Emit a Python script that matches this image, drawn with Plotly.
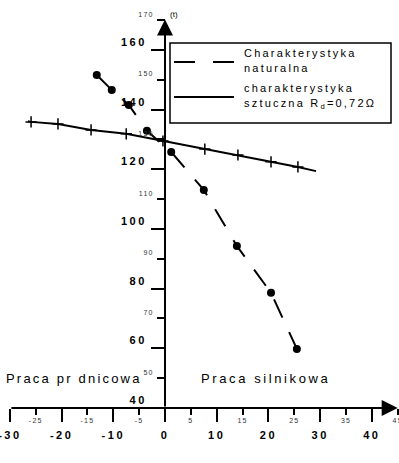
import plotly.graph_objects as go

# ---------------- data ----------------
nat_M = [-13.2, -10.3, -7.0, -3.5, 1.2, 7.5, 13.9, 20.5, 25.5]
nat_n = [151.6, 146.6, 141.6, 132.9, 125.8, 113.1, 94.3, 78.6, 59.8]

art_M = [-26.5, -25.9, -20.7, -14.3, -7.5, -0.4, 7.7, 14.1, 20.5, 25.7, 29.2]
art_n = [136.1, 135.9, 135.2, 133.2, 131.9, 129.5, 126.8, 124.8, 122.5, 120.8, 119.4]

x_major = [-30, -20, -10, 0, 10, 20, 30, 40]
x_minor = [-25, -15, -5, 5, 15, 25, 35, 45]
y_major = [40, 60, 80, 100, 120, 140, 160]
y_minor = [50, 70, 90, 110, 130, 150, 170]

legend_nat = ["Charakterystyka", "naturalna"]
legend_art = ["charakterystyka", "sztuczna R<sub>d</sub>=0,72\u03a9"]
label_gen = "Praca pr dnicowa"
label_mot = "Praca silnikowa"
x_title = "M"
y_title = "(t)"

# ---------------- geometry ----------------
W, H = 399, 463
X_MIN, X_MAX = -31.91, 45.25
Y_MIN, Y_MAX = 40.0, 173.4
M_TOP, M_BOT = 10, 55
PLOT_H = H - M_TOP - M_BOT

FONT = "Liberation Sans, Arial, sans-serif"


def sp(txt, ls):
    return f'<span style="letter-spacing:{ls}px">{txt}</span>'


def px_x(px):
    return X_MIN + px / W * (X_MAX - X_MIN)


def px_y(py):
    return Y_MIN + (M_TOP + PLOT_H - py) / PLOT_H * (Y_MAX - Y_MIN)


fig = go.Figure()

# natural characteristic (dashed, filled dots)
fig.add_trace(go.Scatter(
    x=nat_M, y=nat_n, mode="lines+markers",
    line=dict(color="black", width=2, dash="20px,16px"),
    marker=dict(symbol="circle", size=8, color="black"),
    showlegend=False, hoverinfo="skip"))

# artificial characteristic (solid, + markers)
fig.add_trace(go.Scatter(
    x=art_M, y=art_n, mode="lines",
    line=dict(color="black", width=2),
    showlegend=False, hoverinfo="skip"))
fig.add_trace(go.Scatter(
    x=art_M[1:-1], y=art_n[1:-1], mode="markers",
    marker=dict(symbol="cross-thin", size=8, line=dict(color="black", width=1.5)),
    showlegend=False, hoverinfo="skip"))

ypos = (0 - X_MIN) / (X_MAX - X_MIN)

fig.update_layout(
    width=W, height=H,
    margin=dict(l=0, r=0, t=M_TOP, b=M_BOT, autoexpand=False),
    paper_bgcolor="white", plot_bgcolor="white",
    font=dict(family=FONT, color="black"),
    xaxis=dict(range=[X_MIN, X_MAX], showgrid=False, zeroline=False, showline=False,
               automargin=False, ticklabeloverflow="allow",
               tickmode="array", tickvals=x_major,
               ticktext=[sp(f"<b>{v}</b>", 2.5) for v in x_major],
               ticks="outside", ticklen=13, tickwidth=2, tickcolor="black",
               tickfont=dict(size=11, family=FONT), ticklabelstandoff=4),
    xaxis2=dict(range=[X_MIN, X_MAX], overlaying="x", anchor="y", showgrid=False,
                zeroline=False, showline=False, automargin=False, ticklabeloverflow="allow",
                tickmode="array", tickvals=x_minor,
                ticktext=[sp(str(v), 1.2) for v in x_minor],
                ticks="outside", ticklen=6, tickwidth=2, tickcolor="black",
                tickfont=dict(size=7, family=FONT, color="#333"), ticklabelstandoff=0),
    yaxis=dict(range=[Y_MIN, Y_MAX], showgrid=False, zeroline=False, showline=False,
               automargin=False, ticklabeloverflow="allow",
               anchor="free", position=ypos, side="left",
               tickmode="array", tickvals=y_major,
               ticktext=[sp(f"<b>{v}</b>", 2.5) for v in y_major],
               ticks="outside", ticklen=14, tickwidth=2, tickcolor="black",
               tickfont=dict(size=11, family=FONT), ticklabelshift=-8, ticklabelstandoff=2),
    yaxis2=dict(range=[Y_MIN, Y_MAX], overlaying="y", showgrid=False, zeroline=False,
                showline=False, automargin=False, ticklabeloverflow="allow",
                anchor="free", position=ypos, side="left",
                tickmode="array", tickvals=y_minor,
                ticktext=[sp(str(v), 1.2) for v in y_minor],
                ticks="outside", ticklen=8, tickwidth=2, tickcolor="black",
                tickfont=dict(size=7, family=FONT, color="#333"), ticklabelshift=-6,
                ticklabelstandoff=2),
)

# dummy trace so the overlay axes are drawn
fig.add_trace(go.Scatter(x=[None], y=[None], xaxis="x2", yaxis="y2",
                         showlegend=False, hoverinfo="skip"))

# axis lines with arrows
fig.add_annotation(x=45, y=40, ax=-30, ay=40, xref="x", yref="y", axref="x", ayref="y",
                   text="", showarrow=True, arrowhead=2, arrowsize=1.6, arrowwidth=2,
                   arrowcolor="black", standoff=0, startstandoff=0)
fig.add_annotation(x=0, y=170.2, ax=0, ay=40, xref="x", yref="y", axref="x", ayref="y",
                   text="", showarrow=True, arrowhead=2, arrowsize=1.6, arrowwidth=2,
                   arrowcolor="black", standoff=0, startstandoff=0)

# axis titles
fig.add_annotation(x=px_x(197), y=px_y(449), xref="x", yref="y", text=x_title,
                   showarrow=False, font=dict(size=13, family=FONT))
fig.add_annotation(x=px_x(174), y=px_y(14), xref="x", yref="y", text=y_title,
                   showarrow=False, font=dict(size=8, family=FONT))

# region labels
fig.add_annotation(x=px_x(4), y=px_y(378), xref="x", yref="y", xanchor="left",
                   text=sp(label_gen, 2.2), showarrow=False, font=dict(size=13, family=FONT))
fig.add_annotation(x=px_x(199), y=px_y(378), xref="x", yref="y", xanchor="left",
                   text=sp(label_mot, 2.6), showarrow=False, font=dict(size=13, family=FONT))

# custom legend
fig.add_shape(type="rect", xref="x", yref="y",
              x0=px_x(170), x1=px_x(391), y0=px_y(43), y1=px_y(123),
              line=dict(color="black", width=1.5), fillcolor="white", layer="above")
fig.add_shape(type="line", xref="x", yref="y",
              x0=px_x(174), x1=px_x(234), y0=px_y(62), y1=px_y(62),
              line=dict(color="black", width=2, dash="21px,18px"), layer="above")
fig.add_shape(type="line", xref="x", yref="y",
              x0=px_x(174), x1=px_x(234), y0=px_y(97), y1=px_y(97),
              line=dict(color="black", width=2), layer="above")
for txt, py in [(legend_nat[0], 53), (legend_nat[1], 68), (legend_art[0], 88), (legend_art[1], 104)]:
    fig.add_annotation(x=px_x(242), y=px_y(py), xref="x", yref="y", xanchor="left",
                       text=sp(txt, 2.2), showarrow=False, font=dict(size=11, family=FONT))

fig.write_html("out.html", config={"displayModeBar": False},
               post_script="document.body.style.margin='0';document.body.style.overflow='hidden';")
